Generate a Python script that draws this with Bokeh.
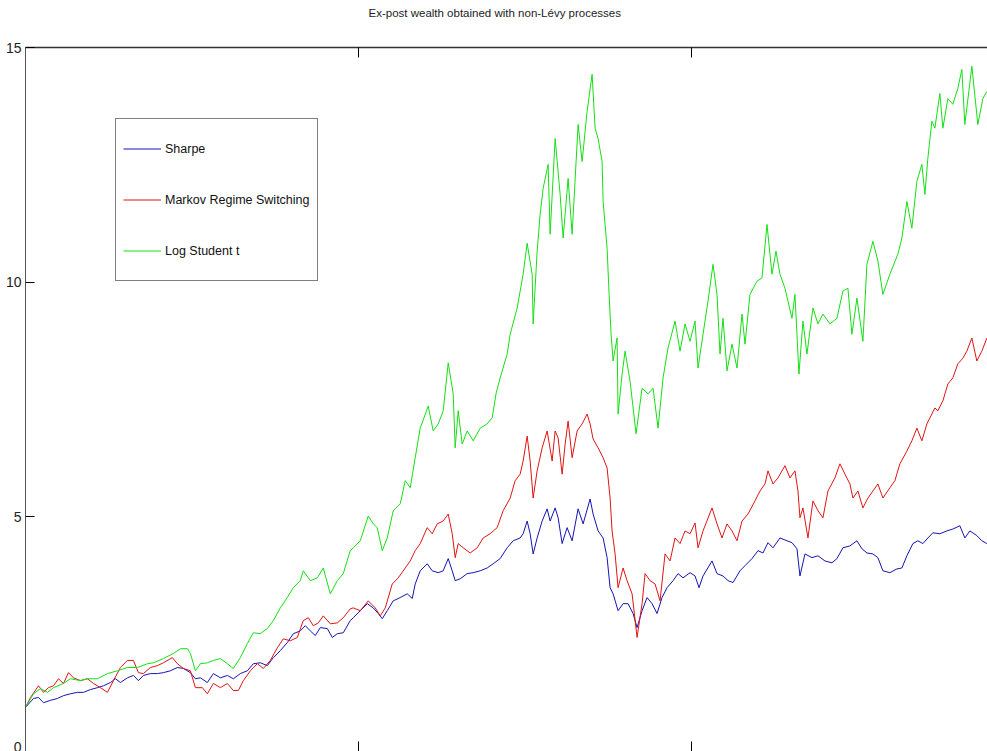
from bokeh.plotting import figure
from bokeh.models import (Range1d, LinearAxis, FixedTicker, Legend, LegendItem, Title)
from bokeh.embed import file_html
from bokeh.resources import INLINE

# Wealth paths (trading-day index, wealth level)
sharpe_t = [0, 24, 39, 54, 75, 96, 114, 135, 156, 174, 195, 216, 234, 255, 270, 285, 306, 324, 339, 354,
            375, 396, 414, 435, 456, 474, 495, 510, 525, 546, 564, 585, 606, 624, 645, 666, 684, 705, 726, 744,
            765, 786, 804, 825, 840, 855, 870, 885, 906, 921, 936, 954, 975, 984, 1005, 1026, 1044, 1059, 1071, 1086,
            1104, 1125, 1146, 1161, 1170, 1185, 1206, 1221, 1239, 1254, 1269, 1281, 1290, 1305, 1326, 1344, 1365, 1386, 1404, 1425,
            1446, 1464, 1485, 1494, 1506, 1515, 1524, 1536, 1551, 1566, 1575, 1590, 1599, 1611, 1626, 1641, 1659, 1674, 1695, 1704,
            1719, 1734, 1746, 1755, 1764, 1779, 1794, 1809, 1824, 1836, 1851, 1866, 1881, 1896, 1911, 1926, 1944, 1959, 1974, 1995,
            2010, 2022, 2034, 2061, 2076, 2094, 2109, 2124, 2145, 2160, 2181, 2199, 2214, 2229, 2244, 2265, 2286, 2301, 2316, 2325,
            2340, 2361, 2379, 2400, 2421, 2436, 2454, 2475, 2496, 2511, 2526, 2544, 2559, 2574, 2595, 2616, 2631, 2646, 2664, 2679,
            2694, 2709, 2724, 2745, 2766, 2784, 2805, 2820, 2835, 2856, 2871, 2886]
sharpe_w = [0.94, 1.13, 1.15, 1.04, 1.09, 1.13, 1.19, 1.23, 1.26, 1.26, 1.32, 1.36, 1.40, 1.47, 1.55, 1.47, 1.57, 1.62, 1.51, 1.62,
            1.66, 1.66, 1.68, 1.72, 1.79, 1.77, 1.68, 1.55, 1.57, 1.47, 1.66, 1.57, 1.62, 1.55, 1.66, 1.72, 1.87, 1.89, 1.83, 2.00,
            2.15, 2.32, 2.51, 2.57, 2.68, 2.57, 2.47, 2.64, 2.62, 2.43, 2.51, 2.53, 2.79, 2.85, 3.00, 3.15, 3.06, 2.94, 2.83, 3.00,
            3.21, 3.28, 3.36, 3.26, 3.57, 3.85, 4.00, 3.85, 3.81, 3.85, 4.11, 3.85, 3.64, 3.68, 3.79, 3.81, 3.85, 3.91, 4.00, 4.11,
            4.34, 4.49, 4.55, 4.64, 4.91, 4.64, 4.21, 4.55, 4.91, 5.17, 4.91, 5.19, 4.98, 4.43, 4.77, 4.49, 5.17, 4.85, 5.38, 5.06,
            4.70, 4.55, 4.13, 3.49, 3.36, 3.00, 3.15, 3.15, 2.94, 2.64, 3.00, 3.28, 3.15, 2.94, 3.28, 3.49, 3.64, 3.79, 3.70, 3.81,
            3.74, 3.49, 3.74, 4.06, 3.79, 3.74, 3.64, 3.60, 3.85, 3.96, 4.11, 4.28, 4.23, 4.45, 4.34, 4.55, 4.49, 4.45, 4.32, 3.74,
            4.21, 4.13, 4.17, 4.06, 4.02, 4.11, 4.34, 4.38, 4.49, 4.32, 4.23, 4.21, 4.13, 3.85, 3.81, 3.89, 3.91, 4.17, 4.43, 4.49,
            4.43, 4.55, 4.66, 4.64, 4.70, 4.74, 4.81, 4.55, 4.70, 4.60, 4.49, 4.43]

markov_t = [0, 15, 39, 54, 69, 84, 99, 114, 129, 144, 165, 186, 204, 225, 246, 264, 285, 306, 324, 339,
            354, 375, 396, 414, 441, 456, 474, 495, 510, 531, 546, 564, 585, 606, 624, 639, 654, 675, 696, 714,
            735, 756, 774, 795, 816, 834, 849, 864, 879, 894, 915, 936, 954, 975, 984, 1005, 1029, 1050, 1065, 1080,
            1101, 1119, 1140, 1155, 1170, 1185, 1206, 1221, 1236, 1254, 1269, 1281, 1290, 1299, 1314, 1335, 1356, 1374, 1395, 1416,
            1434, 1455, 1470, 1485, 1494, 1506, 1515, 1524, 1536, 1551, 1566, 1581, 1590, 1599, 1611, 1620, 1629, 1641, 1656, 1671,
            1686, 1695, 1704, 1719, 1734, 1746, 1755, 1761, 1770, 1779, 1794, 1806, 1821, 1836, 1851, 1860, 1875, 1890, 1905, 1920,
            1935, 1950, 1965, 1980, 1995, 2010, 2019, 2034, 2061, 2076, 2091, 2106, 2121, 2136, 2151, 2169, 2190, 2205, 2220, 2229,
            2244, 2259, 2280, 2295, 2310, 2319, 2325, 2334, 2349, 2364, 2379, 2394, 2409, 2430, 2445, 2460, 2475, 2484, 2499, 2514,
            2529, 2544, 2559, 2574, 2595, 2610, 2625, 2646, 2661, 2676, 2691, 2706, 2721, 2730, 2739, 2754, 2769, 2784, 2799, 2814,
            2826, 2841, 2856, 2871, 2886]
markov_w = [0.94, 1.15, 1.40, 1.26, 1.36, 1.40, 1.55, 1.45, 1.68, 1.57, 1.51, 1.55, 1.45, 1.36, 1.26, 1.51, 1.79, 1.94, 1.94, 1.68,
            1.66, 1.79, 1.83, 1.89, 2.00, 1.87, 1.77, 1.72, 1.36, 1.36, 1.23, 1.45, 1.36, 1.45, 1.30, 1.30, 1.51, 1.72, 1.87, 1.77,
            1.94, 2.21, 2.40, 2.36, 2.43, 2.79, 2.85, 2.68, 2.74, 2.89, 2.72, 2.74, 2.85, 3.04, 3.06, 3.00, 3.21, 3.06, 2.89, 3.06,
            3.57, 3.70, 3.91, 4.06, 4.28, 4.43, 4.77, 4.64, 4.85, 4.91, 5.06, 4.64, 4.13, 4.43, 4.34, 4.23, 4.34, 4.55, 4.64, 4.77,
            5.13, 5.40, 5.77, 5.91, 6.19, 6.72, 6.19, 5.40, 5.98, 6.47, 6.83, 6.19, 6.83, 6.68, 5.91, 6.55, 7.04, 6.26, 6.83, 6.98,
            7.19, 6.98, 6.66, 6.47, 6.26, 6.04, 5.40, 4.70, 4.21, 3.49, 3.91, 3.64, 3.36, 2.43, 3.15, 3.79, 3.64, 3.57, 3.21, 4.21,
            4.06, 4.55, 4.43, 4.70, 4.64, 4.87, 4.34, 4.70, 5.19, 4.85, 4.55, 4.85, 4.70, 4.49, 4.91, 5.06, 5.34, 5.55, 5.70, 5.98,
            5.70, 5.83, 6.09, 5.83, 5.98, 5.55, 4.98, 5.19, 4.55, 5.34, 5.13, 4.98, 5.55, 5.83, 6.13, 5.91, 5.70, 5.40, 5.55, 5.19,
            5.40, 5.55, 5.70, 5.40, 5.62, 5.77, 6.13, 6.40, 6.62, 6.89, 6.62, 6.98, 7.19, 7.32, 7.26, 7.47, 7.83, 7.96, 8.26, 8.38,
            8.53, 8.81, 8.32, 8.53, 8.81]

student_t = [0, 24, 45, 66, 84, 114, 135, 165, 186, 216, 246, 276, 306, 336, 366, 384, 414, 444, 465, 486,
             495, 510, 525, 546, 564, 585, 606, 624, 645, 666, 684, 705, 726, 744, 765, 786, 804, 825, 834, 855,
             876, 894, 915, 936, 954, 975, 984, 1005, 1029, 1044, 1056, 1071, 1086, 1104, 1125, 1140, 1155, 1170, 1185, 1209,
             1224, 1239, 1254, 1269, 1284, 1290, 1299, 1311, 1326, 1344, 1365, 1386, 1401, 1413, 1425, 1446, 1455, 1476, 1494, 1506,
             1521, 1524, 1536, 1545, 1554, 1569, 1575, 1590, 1605, 1614, 1629, 1641, 1659, 1671, 1686, 1701, 1710, 1719, 1731, 1734,
             1746, 1752, 1758, 1764, 1776, 1779, 1791, 1800, 1815, 1833, 1851, 1869, 1884, 1899, 1914, 1929, 1950, 1965, 1980, 1995,
             2010, 2019, 2034, 2049, 2064, 2076, 2085, 2094, 2106, 2121, 2136, 2151, 2160, 2175, 2196, 2211, 2226, 2241, 2253, 2265,
             2280, 2301, 2310, 2322, 2334, 2346, 2364, 2379, 2394, 2415, 2436, 2454, 2469, 2481, 2496, 2514, 2526, 2544, 2559, 2574,
             2595, 2619, 2631, 2646, 2661, 2676, 2691, 2700, 2709, 2721, 2730, 2745, 2754, 2769, 2784, 2799, 2811, 2820, 2841, 2859,
             2874, 2886]
student_w = [0.94, 1.23, 1.34, 1.26, 1.36, 1.45, 1.55, 1.51, 1.55, 1.55, 1.66, 1.72, 1.79, 1.79, 1.87, 1.89, 1.98, 2.09, 2.19, 2.19,
             2.09, 1.72, 1.87, 1.89, 1.94, 1.98, 1.87, 1.77, 2.00, 2.30, 2.53, 2.51, 2.62, 2.79, 3.06, 3.28, 3.49, 3.64, 3.85, 3.64,
             3.70, 3.91, 3.36, 3.64, 3.79, 4.28, 4.34, 4.49, 5.02, 4.85, 4.77, 4.28, 4.55, 5.13, 5.28, 5.77, 5.62, 6.26, 6.89, 7.36,
             6.83, 6.98, 7.26, 8.28, 7.62, 6.47, 7.26, 6.55, 6.83, 6.62, 6.89, 6.98, 7.11, 7.64, 7.96, 8.47, 8.89, 9.45, 10.17, 10.83,
             10.17, 9.11, 10.66, 11.45, 12.00, 12.51, 11.02, 13.06, 11.87, 10.94, 12.21, 11.02, 13.36, 12.57, 13.64, 14.43, 13.28, 13.06, 12.57, 11.72,
             10.72, 9.74, 8.89, 8.32, 8.81, 7.19, 8.04, 8.53, 7.89, 6.77, 7.74, 7.62, 7.74, 6.89, 7.96, 8.60, 9.17, 8.53, 9.11, 8.74,
             9.17, 8.17, 8.89, 9.60, 10.38, 9.74, 8.47, 9.23, 8.11, 8.68, 8.17, 9.32, 8.68, 9.74, 10.02, 10.09, 11.23, 10.17, 10.66, 10.17,
             9.87, 9.23, 9.74, 8.04, 9.17, 8.47, 9.45, 9.11, 9.32, 9.11, 9.23, 9.81, 9.87, 8.89, 9.66, 8.74, 10.38, 10.87, 10.45, 9.74,
             10.17, 10.60, 10.94, 11.72, 11.15, 12.15, 12.51, 11.87, 12.64, 13.43, 13.28, 14.02, 13.28, 13.91, 13.79, 14.13, 14.53, 13.36, 14.60, 13.36,
             13.91, 14.06]

series_names = ["Sharpe", "Markov Regime Switching", "Log Student t"]
series_colors = ["#1414b4", "#e01414", "#14e014"]
x_ticks = [1000, 2000]
y_ticks = [0, 5, 10, 15]
title_text = "Ex-post wealth obtained with non-L\u00e9vy processes"

FONT = "Liberation Sans"

p = figure(width=987, height=751, output_backend="svg", toolbar_location=None,
           x_range=Range1d(0, 2888), y_range=Range1d(0, 15),
           min_border_left=25, min_border_right=0, min_border_top=47, min_border_bottom=0,
           background_fill_color="white", border_fill_color="white")
p.outline_line_color = None
p.grid.visible = False

p.title = Title(text=title_text, align="left",
                text_font=FONT, text_font_size="11.5px", text_font_style="normal",
                text_color="#222222", standoff=8, offset=343)

# bottom axis: tick marks only
xa = p.xaxis[0]
xa.ticker = FixedTicker(ticks=x_ticks)
xa.major_label_overrides = {t: "" for t in x_ticks}
xa.major_label_standoff = 0
xa.major_tick_in = 10
xa.major_tick_out = 0
xa.minor_tick_line_color = None
xa.axis_line_color = "#333333"

# top border with mirrored ticks
top = LinearAxis(ticker=FixedTicker(ticks=x_ticks), major_label_overrides={t: "" for t in x_ticks},
                 major_label_standoff=0, major_tick_in=10, major_tick_out=0,
                 minor_tick_line_color=None, axis_line_color="#333333", axis_line_width=1.5)
p.add_layout(top, "above")

# transparent spacer between the top border and the title
spacer = LinearAxis(ticker=FixedTicker(ticks=x_ticks), major_label_overrides={t: "" for t in x_ticks},
                    major_label_standoff=0, major_tick_in=0, major_tick_out=25,
                    minor_tick_in=0, minor_tick_out=0,
                    major_tick_line_alpha=0.0, minor_tick_line_alpha=0.0, axis_line_alpha=0.0)
p.add_layout(spacer, "above")

ya = p.yaxis[0]
ya.ticker = FixedTicker(ticks=y_ticks)
ya.major_tick_in = 9
ya.major_tick_out = 0
ya.minor_tick_line_color = None
ya.major_label_standoff = 4
ya.major_label_text_font = FONT
ya.major_label_text_font_size = "14px"
ya.major_label_text_color = "#222222"
ya.axis_line_color = "#555555"

renderers = []
for t, w, c in [(sharpe_t, sharpe_w, series_colors[0]),
                (markov_t, markov_w, series_colors[1]),
                (student_t, student_w, series_colors[2])]:
    renderers.append(p.line(t, w, line_color=c, line_width=1))

legend = Legend(items=[LegendItem(label=n, renderers=[r]) for n, r in zip(series_names, renderers)],
                location=(90, 470), padding=7, spacing=6, margin=0,
                glyph_width=38, glyph_height=45, label_height=45, label_standoff=4,
                label_text_font=FONT, label_text_font_size="12.5px", label_text_color="#111111",
                border_line_color="black", border_line_width=1,
                background_fill_color="white", background_fill_alpha=1.0)
p.add_layout(legend, "center")

open("out.html", "w").write(file_html(p, INLINE))
